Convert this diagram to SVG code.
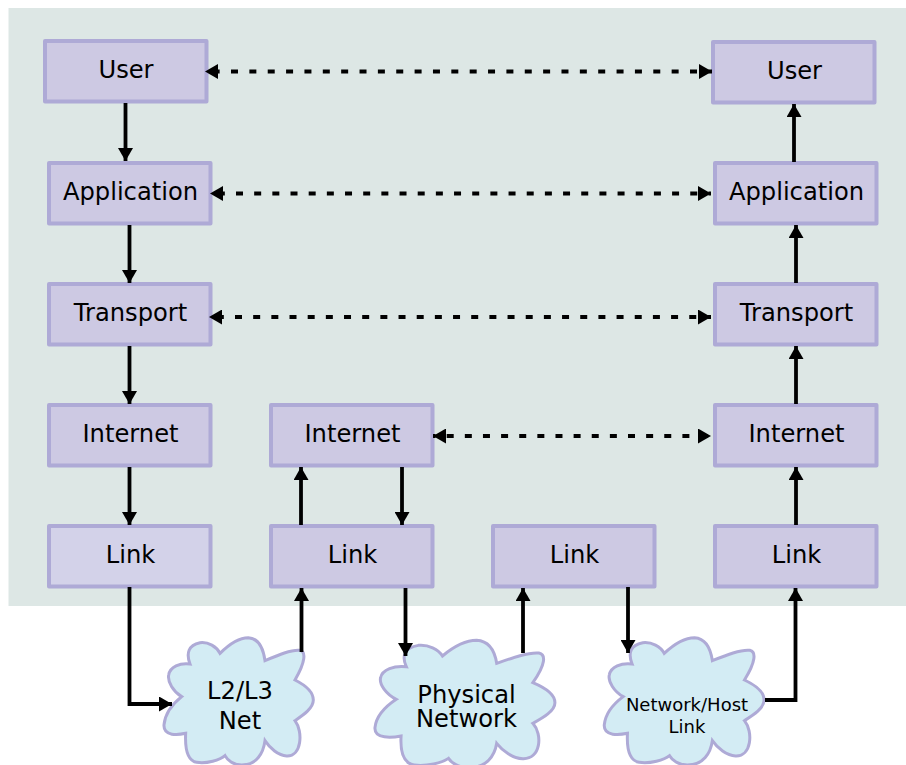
<svg xmlns="http://www.w3.org/2000/svg" width="906" height="765" viewBox="0 0 906 765">
<style>
text{font-family:"DejaVu Sans",sans-serif;font-size:24.2px;fill:#000;text-anchor:middle}
.box{fill:#cdc9e3;stroke:#aeaad6;stroke-width:4;stroke-linejoin:round}
.light{fill:#d3d2e9}
.c{fill:#d3ecf4;stroke:#aeaad6;stroke-width:3}
.cp{vector-effect:non-scaling-stroke}
.a{fill:none;stroke:#000;stroke-width:3.8}
.d{fill:none;stroke:#000;stroke-width:3.8}
</style>
<defs>
<marker id="h" markerUnits="userSpaceOnUse" markerWidth="13" markerHeight="15" refX="13" refY="7.500" orient="auto"><path d="M0 0L13 7.500L0 15Z" fill="#000"/></marker>
<marker id="s" markerUnits="userSpaceOnUse" markerWidth="13" markerHeight="15" refX="0" refY="7.500" orient="auto"><path d="M13 0L0 7.500L13 15Z" fill="#000"/></marker>
<path id="cloud" class="cp" d="M345 212C385 195 425 178 450 181C468 185 467 215 435 270C465 285 490 305 490 330C490 355 460 375 435 392C460 425 455 500 410 498C385 497 360 475 345 452C340 490 320 525 275 525C250 525 232 510 225 497C210 510 170 522 140 517C110 512 105 470 107 430C85 435 40 440 42 405C45 370 70 340 95 320C70 305 52 275 56 255C60 230 90 218 120 222C108 190 115 165 150 158C175 155 200 170 210 190C235 165 265 143 295 143C325 145 340 175 345 212Z"/>
</defs>
<rect x="8.500" y="8" width="897.500" height="598" fill="#dde7e5"/>
<g id="node-user-l"><rect class="box" x="45" y="41" width="161.500" height="60.500"/><text x="126" y="78">User</text></g>
<g id="node-app-l"><rect class="box" x="49" y="163" width="161.500" height="60.500"/><text x="130.500" y="200">Application</text></g>
<g id="node-trans-l"><rect class="box" x="49" y="284" width="161.500" height="60.500"/><text x="130.500" y="321">Transport</text></g>
<g id="node-int-l"><rect class="box" x="49" y="405" width="161.500" height="60.500"/><text x="130.500" y="442">Internet</text></g>
<g id="node-link-l"><rect class="box light" x="49" y="526" width="161.500" height="60.500"/><text x="130.500" y="563">Link</text></g>
<g id="node-int-m"><rect class="box" x="271" y="405" width="161.500" height="60.500"/><text x="352.500" y="442">Internet</text></g>
<g id="node-link-m"><rect class="box" x="271" y="526" width="161.500" height="60.500"/><text x="352.500" y="563">Link</text></g>
<g id="node-link-n"><rect class="box" x="493" y="526" width="161.500" height="60.500"/><text x="574.500" y="563">Link</text></g>
<g id="node-user-r"><rect class="box" x="713" y="42" width="161.500" height="60.500"/><text x="794.500" y="79">User</text></g>
<g id="node-app-r"><rect class="box" x="715" y="163" width="161.500" height="60.500"/><text x="796.500" y="200">Application</text></g>
<g id="node-trans-r"><rect class="box" x="715" y="284" width="161.500" height="60.500"/><text x="796.500" y="321">Transport</text></g>
<g id="node-int-r"><rect class="box" x="715" y="405" width="161.500" height="60.500"/><text x="796.500" y="442">Internet</text></g>
<g id="node-link-r"><rect class="box" x="715" y="526" width="161.500" height="60.500"/><text x="796.500" y="563">Link</text></g>
<g id="cloud-l2l3"><use href="#cloud" class="c" transform="translate(150 590) scale(.3333)"/><text x="240" y="699">L2/L3</text><text x="240" y="729">Net</text></g>
<g id="cloud-physical"><use href="#cloud" class="c" transform="translate(358.1 592.7) scale(.4017 .3333)"/><text x="466.500" y="703">Physical</text><text x="466.500" y="727">Network</text></g>
<g id="cloud-netlink"><use href="#cloud" class="c" transform="translate(589.3 590) scale(.3567 .3333)"/><text x="687" y="711" style="font-size:18px">Network/Host</text><text x="687" y="733" style="font-size:18px">Link</text></g>
<g id="connectors">
<path class="a" marker-end="url(#h)" d="M125.500 103V161"/>
<path class="a" marker-end="url(#h)" d="M129.500 225V283"/>
<path class="a" marker-end="url(#h)" d="M129.500 346V404"/>
<path class="a" marker-end="url(#h)" d="M129.500 467V525"/>
<path class="a" marker-end="url(#h)" d="M301 525V467"/>
<path class="a" marker-end="url(#h)" d="M402 467V525"/>
<path class="a" marker-end="url(#h)" d="M794 162V104"/>
<path class="a" marker-end="url(#h)" d="M796 283V225"/>
<path class="a" marker-end="url(#h)" d="M796 404V346"/>
<path class="a" marker-end="url(#h)" d="M796 525V467"/>
<path class="d" style="stroke-dasharray:7 11.36;stroke-dashoffset:-7.64" marker-start="url(#s)" marker-end="url(#h)" d="M205 71.500H712"/>
<path class="d" style="stroke-dasharray:7 11.17;stroke-dashoffset:-7.83" marker-start="url(#s)" marker-end="url(#h)" d="M210 193.500H711"/>
<path class="d" style="stroke-dasharray:7 11.17;stroke-dashoffset:-7.83" marker-start="url(#s)" marker-end="url(#h)" d="M209 317H711"/>
<path class="d" style="stroke-dasharray:7 11.13;stroke-dashoffset:-13.7" marker-start="url(#s)" marker-end="url(#h)" d="M433 436H711"/>
<path class="a" marker-end="url(#h)" d="M129.500 587V704H172"/>
<path class="a" marker-end="url(#h)" d="M301.500 652V588"/>
<path class="a" marker-end="url(#h)" d="M405.500 588V656"/>
<path class="a" marker-end="url(#h)" d="M523 653V588"/>
<path class="a" marker-end="url(#h)" d="M628 587V653"/>
<path class="a" marker-end="url(#h)" d="M765 700H795.500V588"/>
</g>
</svg>
